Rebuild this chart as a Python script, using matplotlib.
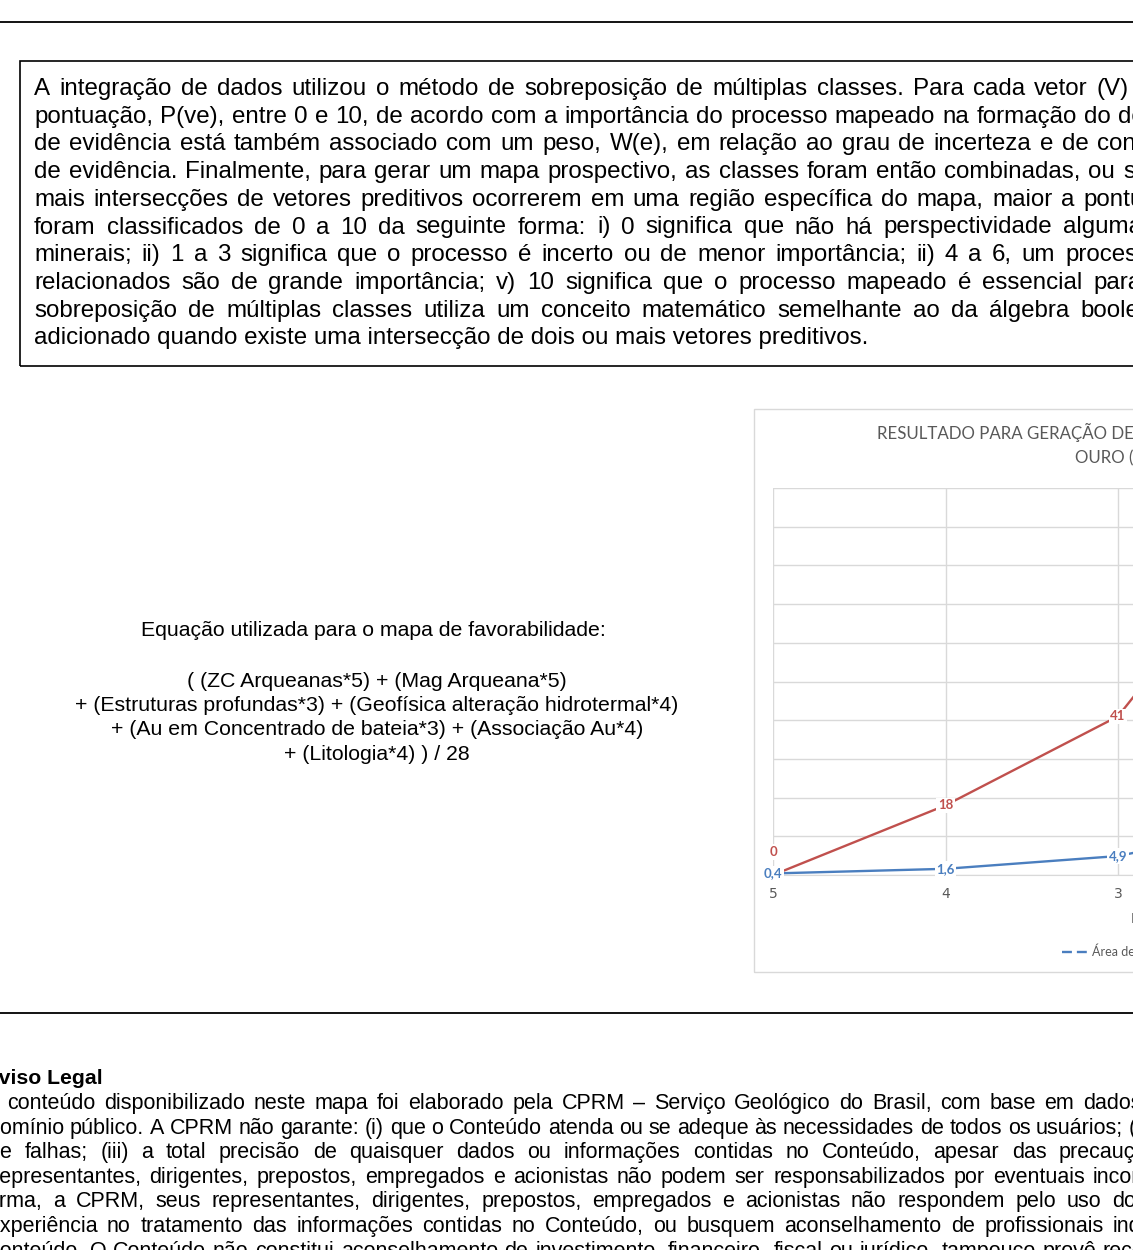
import matplotlib
matplotlib.use("Agg")
import matplotlib.pyplot as plt
from matplotlib.lines import Line2D
from matplotlib.patches import Rectangle

W, H = 1133, 1250

# dados do grafico (favorabilidade decrescente no eixo x)
categorias = [5, 4, 3, 2, 1]
area_favorabilidade = [0.4, 1.6, 4.9, 14, 100]
ocorrencias_ouro = [0, 18, 41, 97, 100]
nomes_series = ["Área de favorabilidade (%)", "Ocorrências de ouro (%)"]
titulo_grafico = ["RESULTADO PARA GERAÇÃO DE ALVOS PARA", "OURO (Au)"]

# textos do mapa
texto_metodo = [
    "A integração de dados utilizou o método de sobreposição de múltiplas classes. Para cada vetor (V)",
    "pontuação, P(ve), entre 0 e 10, de acordo com a importância do processo mapeado na formação do depósito",
    "de evidência está também associado com um peso, W(e), em relação ao grau de incerteza e de confiança",
    "de evidência. Finalmente, para gerar um mapa prospectivo, as classes foram então combinadas, ou somadas",
    "mais intersecções de vetores preditivos ocorrerem em uma região específica do mapa, maior a pontuação",
    "foram classificados de 0 a 10 da seguinte forma: i) 0 significa que não há perspectividade alguma",
    "minerais; ii) 1 a 3 significa que o processo é incerto ou de menor importância; ii) 4 a 6, um processo",
    "relacionados são de grande importância; v) 10 significa que o processo mapeado é essencial para",
    "sobreposição de múltiplas classes utiliza um conceito matemático semelhante ao da álgebra booleana",
    "adicionado quando existe uma intersecção de dois ou mais vetores preditivos.",
]
fim_metodo = [1097, 1118, 1097, 1123, 1083, 1063, 1065, 1093, 1080, None]

equacao = [
    "( (ZC Arqueanas*5) + (Mag Arqueana*5)",
    "+ (Estruturas profundas*3) + (Geofísica alteração hidrotermal*4)",
    "+ (Au em Concentrado de bateia*3) + (Associação Au*4)",
    "+ (Litologia*4) ) / 28",
]

texto_aviso = [
    "O conteúdo disponibilizado neste mapa foi elaborado pela CPRM – Serviço Geológico do Brasil, com base em dados",
    "domínio público. A CPRM não garante: (i) que o Conteúdo atenda ou se adeque às necessidades de todos os usuários; (ii)",
    "de falhas; (iii) a total precisão de quaisquer dados ou informações contidas no Conteúdo, apesar das precauções",
    "representantes, dirigentes, prepostos, empregados e acionistas não podem ser responsabilizados por eventuais incorreções",
    "forma, a CPRM, seus representantes, dirigentes, prepostos, empregados e acionistas não respondem pelo uso do",
    "experiência no tratamento das informações contidas no Conteúdo, ou busquem aconselhamento de profissionais independentes",
    "conteúdo. O Conteúdo não constitui aconselhamento de investimento, financeiro, fiscal ou jurídico, tampouco provê recomendação",
]
inicio_aviso = [-18, -12, -12, -8, -18, -12, -11]
fim_aviso = [1083, 1129, 1059, 1093, 1112, 1113, 1103]

AZUL = "#4A7EBF"
VERMELHO = "#C0504D"
CINZA = "#595959"
GRADE = "#D9D9D9"
FONTE = "Liberation Sans"


def fx(x):
    return x / W


def fy(y):
    return 1 - y / H


fig = plt.figure(figsize=(W / 100, H / 100), dpi=100)
renderer = fig.canvas.get_renderer()


def justificar(linha, x0, x_ultima, y, **kw):
    palavras = linha.split()
    arts = [fig.text(0, fy(y), p, ha="left", va="baseline", **kw) for p in palavras]
    larguras = [a.get_window_extent(renderer).width for a in arts]
    gap = (x_ultima - x0 - sum(larguras[:-1])) / (len(palavras) - 1)
    x = x0
    for a, w in zip(arts, larguras):
        a.set_x(fx(x))
        x += w + gap


# linhas horizontais da folha
fig.add_artist(Line2D([0, 1], [fy(22), fy(22)], color="black", lw=1.3))
fig.add_artist(Line2D([0, 1], [fy(1013), fy(1013)], color="black", lw=1.3))

# caixa do texto de metodo
fig.add_artist(Rectangle((fx(20), fy(366)), fx(1300), (366 - 61) / H, fill=False,
                         ec="black", lw=1.2, transform=fig.transFigure))
for i, linha in enumerate(texto_metodo):
    yb = 95 + i * 27.7
    if fim_metodo[i] is None:
        fig.text(fx(34), fy(yb), linha, ha="left", va="baseline", fontsize=17.35,
                 family=FONTE, color="black")
    else:
        justificar(linha, 34, fim_metodo[i], yb, fontsize=17.35, family=FONTE, color="black")

# equacao
fig.text(fx(373), fy(636), "Equação utilizada para o mapa de favorabilidade:", ha="center",
         va="baseline", fontsize=15.35, family=FONTE)
for i, linha in enumerate(equacao):
    fig.text(fx(377), fy(687 + i * 24.2), linha, ha="center", va="baseline", fontsize=15.35, family=FONTE)

# aviso legal
fig.text(fx(-16), fy(1084), "Aviso Legal", ha="left", va="baseline", fontsize=15.3,
         family=FONTE, fontweight="bold")
for i, linha in enumerate(texto_aviso):
    justificar(linha, inicio_aviso[i], fim_aviso[i], 1109 + i * 24.6, fontsize=15.5,
               family=FONTE, color="black")

# grafico
fig.add_artist(Rectangle((fx(754), fy(972)), fx(800), (972 - 409) / H, fill=False,
                         ec=GRADE, lw=1.0, transform=fig.transFigure))
for i, t in enumerate(titulo_grafico):
    fig.text(fx([877, 1075][i]), fy(432 + i * 26), t, ha="left", va="center",
             fontsize=12.2, family="Lato", color=CINZA)

ax = fig.add_axes([fx(773), fy(875), 690 / W, (875 - 488) / H])
ax.plot(categorias, area_favorabilidade, color=AZUL, lw=1.7, zorder=3)
ax.plot(categorias, ocorrencias_ouro, color=VERMELHO, lw=1.7, zorder=3)
ax.set_xlim(5, 1)
ax.set_ylim(0, 100)
ax.set_xticks(categorias)
ax.set_xticklabels([str(c) for c in categorias])
ax.set_yticks(range(0, 101, 10))
ax.set_yticklabels([])
ax.tick_params(axis="both", length=0, colors=CINZA, labelsize=10, pad=9)
for lado in ["top", "left", "right"]:
    ax.spines[lado].set_visible(False)
ax.spines["bottom"].set_color(GRADE)
ax.grid(True, color=GRADE, lw=1.0, zorder=0)
ax.set_axisbelow(True)

for c, v in zip(categorias, area_favorabilidade):
    ax.annotate(f"{v:g}".replace(".", ","), (c, v), ha="center", va="center", color=AZUL,
                fontsize=9.5, fontweight="bold", family="Lato", zorder=5,
                bbox=dict(fc="white", ec="none", pad=1.2))
for c, v in zip(categorias, ocorrencias_ouro):
    desloc = (0, 16.5) if v == 0 else (0, 0)
    ax.annotate(f"{v:g}".replace(".", ","), (c, v), xytext=desloc, textcoords="offset points",
                ha="center", va="center", color=VERMELHO, fontsize=9.5, fontweight="bold",
                family="Lato", zorder=5, bbox=dict(fc="white", ec="none", pad=1.2))

ax.set_xlabel("Favorabilidade", color=CINZA, fontsize=10, family="Lato")
ax.xaxis.set_label_coords((1131 - 773) / 690, -0.098)
ax.xaxis.label.set_horizontalalignment("left")

handles = [Line2D([], [], color=AZUL, lw=1.7, ls=(0, (4.2, 2.1))),
           Line2D([], [], color=VERMELHO, lw=1.7)]
fig.legend(handles, nomes_series, loc="center left", bbox_to_anchor=(fx(1062), fy(951)),
           ncol=2, frameon=False, handlelength=2.15, handletextpad=0.25,
           borderpad=0, borderaxespad=0, labelcolor=CINZA, prop={"family": "Lato", "size": 9.0})

fig.savefig("out.png", dpi=100)
